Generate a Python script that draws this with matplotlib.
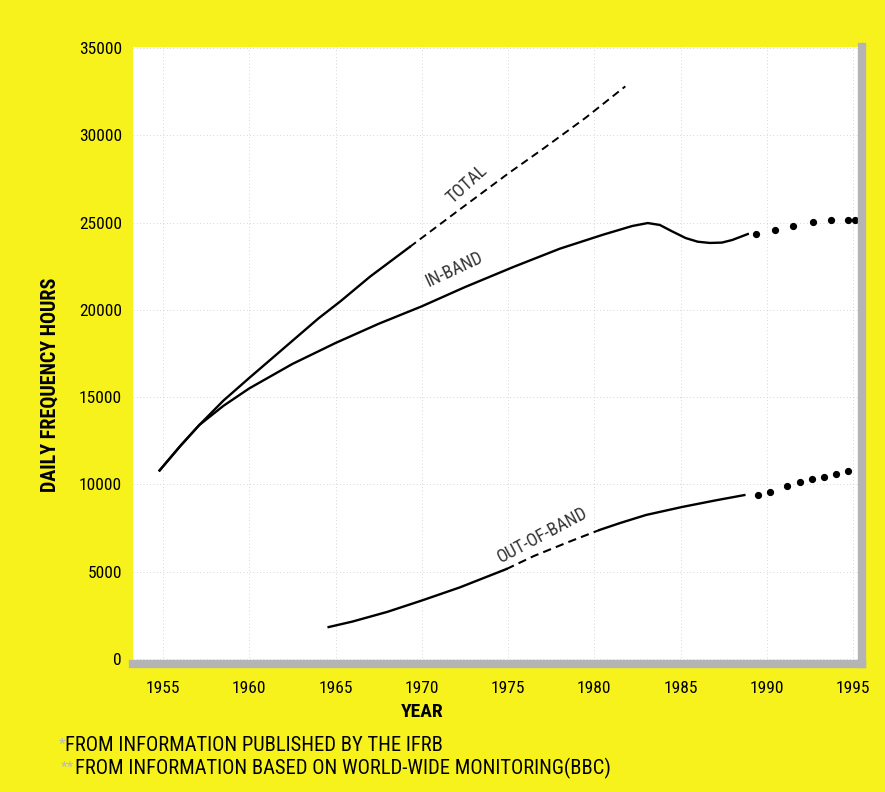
import matplotlib
matplotlib.use("Agg")
import matplotlib.pyplot as plt

# Values (daily frequency hours)
total_solid_years = [1954.8, 1956.0, 1957.1, 1958.5, 1960.0, 1962.0, 1964.0, 1965.3, 1967.0, 1969.3]
total_solid_vals = [10800, 12200, 13400, 14800, 16100, 17800, 19500, 20500, 21900, 23600]
total_dash_years = [1969.3, 1972.0, 1975.0, 1977.0, 1979.5, 1981.8]
total_dash_vals = [23600, 25600, 27800, 29200, 31000, 32800]

inband_years = [1954.8, 1956.0, 1957.1, 1958.5, 1960.0, 1962.5, 1965.0, 1967.5, 1970.0, 1972.5,
                1975.3, 1978.0, 1980.5, 1982.2, 1983.1, 1983.8, 1984.5, 1985.3, 1986.0,
                1986.7, 1987.4, 1988.0, 1988.9]
inband_vals = [10800, 12200, 13400, 14500, 15500, 16900, 18100, 19200, 20200, 21300,
               22450, 23500, 24300, 24800, 24970, 24860, 24500, 24110, 23900,
               23830, 23850, 24000, 24340]
inband_est_years = [1989.4, 1990.5, 1991.5, 1992.7, 1993.7, 1994.7, 1995.1]
inband_est_vals = [24340, 24570, 24800, 25030, 25140, 25140, 25140]

oob_solid1_years = [1964.6, 1966.0, 1968.0, 1970.0, 1972.2, 1974.9]
oob_solid1_vals = [1830, 2150, 2700, 3350, 4100, 5150]
oob_dash_years = [1974.9, 1976.5, 1978.5, 1980.3]
oob_dash_vals = [5150, 5900, 6700, 7390]
oob_solid2_years = [1980.3, 1981.5, 1983.0, 1985.1, 1987.0, 1988.7]
oob_solid2_vals = [7390, 7790, 8250, 8710, 9080, 9390]
oob_est_years = [1989.5, 1990.2, 1991.2, 1991.9, 1992.6, 1993.3, 1994.0, 1994.7]
oob_est_vals = [9390, 9560, 9910, 10140, 10300, 10450, 10600, 10750]

x_ticks = [1955, 1960, 1965, 1970, 1975, 1980, 1985, 1990, 1995]
y_ticks = [0, 5000, 10000, 15000, 20000, 25000, 30000, 35000]

YELLOW = "#f8f21c"
plt.rcParams["font.family"] = ["Roboto Condensed", "DejaVu Sans"]
plt.rcParams["font.stretch"] = "condensed"

fig = plt.figure(figsize=(8.85, 7.92), dpi=100, facecolor=YELLOW)
ax = fig.add_axes([0.1503, 0.1616, 0.8237, 0.779])
ax.set_facecolor("white")

ax.plot(total_solid_years, total_solid_vals, color="black", lw=1.7)
ax.plot(total_dash_years, total_dash_vals, color="black", lw=1.4, ls=(0, (4, 2.5)))
ax.plot(inband_years, inband_vals, color="black", lw=1.7)
ax.plot(inband_est_years, inband_est_vals, "o", color="black", ms=4.2)
ax.plot(oob_solid1_years, oob_solid1_vals, color="black", lw=1.7)
ax.plot(oob_dash_years, oob_dash_vals, color="black", lw=1.5, ls=(0, (4, 2.5)))
ax.plot(oob_solid2_years, oob_solid2_vals, color="black", lw=1.7)
ax.plot(oob_est_years, oob_est_vals, "o", color="black", ms=4.2)

# curve labels
ax.text(1972.6, 27200, "TOTAL", rotation=42, fontsize=13, color="#333333",
        ha="center", va="center")
ax.text(1971.9, 22300, "IN-BAND", rotation=25, fontsize=13, color="#333333",
        ha="center", va="center")
ax.text(1977.0, 7100, "OUT-OF-BAND", rotation=28, fontsize=13, color="#333333",
        ha="center", va="center")

ax.set_xlim(1953.26, 1995.52)
ax.set_ylim(-286, 35050)
ax.set_xticks(x_ticks)
ax.set_yticks(y_ticks)
ax.tick_params(length=0, labelsize=12.5)
ax.tick_params(axis="y", pad=8)
ax.tick_params(axis="x", pad=12)
ax.grid(True, color="#c8c8c8", lw=0.6, ls=(0, (1, 3)))

for side in ["top", "left"]:
    ax.spines[side].set_visible(False)
ax.spines["bottom"].set_color("#b4b4b4")
ax.spines["bottom"].set_linewidth(6)
ax.spines["right"].set_color("#b4b4b4")
ax.spines["right"].set_linewidth(6)

fig.text(422 / 885, 1 - 712 / 792, "YEAR", fontsize=14, fontweight="bold",
         ha="center", va="center")
fig.text(50 / 885, 1 - 385 / 792, "DAILY FREQUENCY HOURS", rotation=90, fontsize=14.5,
         fontweight="bold", ha="center", va="center")

# footnotes
fig.text(0.066, 0.059, "*", fontsize=11, color="#bbbbbb", va="center")
fig.text(0.074, 0.059, "FROM INFORMATION PUBLISHED BY THE IFRB", fontsize=14.8, va="center")
fig.text(0.069, 0.030, "**", fontsize=11, color="#bbbbbb", va="center")
fig.text(0.085, 0.030, "FROM INFORMATION BASED ON WORLD-WIDE MONITORING(BBC)", fontsize=14.8,
         va="center")

fig.savefig("out.png", dpi=100, facecolor=YELLOW)
